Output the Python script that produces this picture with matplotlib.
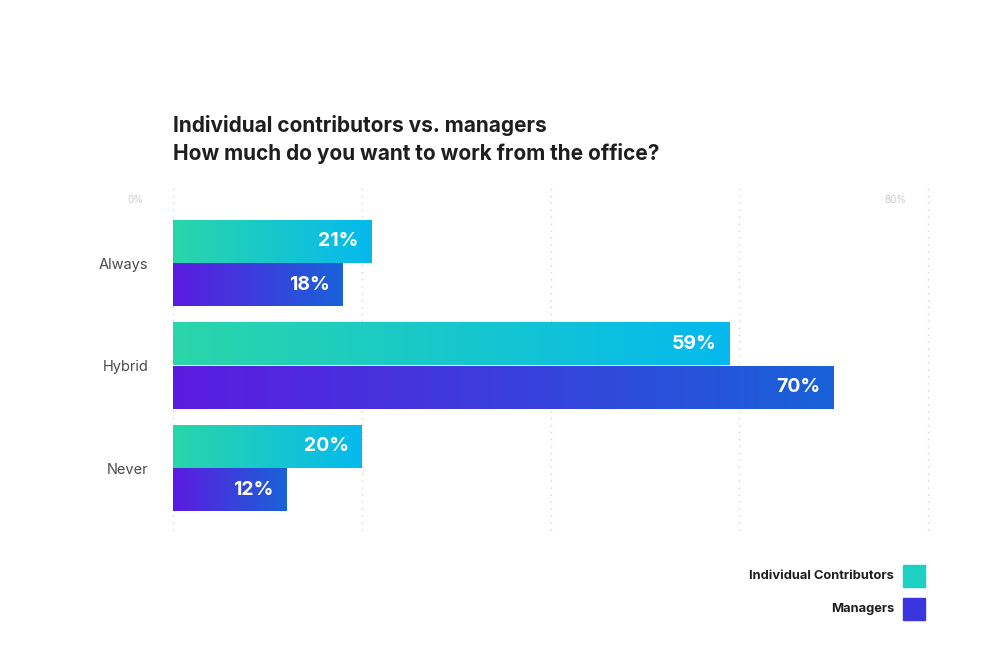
import matplotlib
matplotlib.use("Agg")
import matplotlib.pyplot as plt
import numpy as np
from matplotlib.colors import LinearSegmentedColormap

plt.rcParams['font.family'] = ['Inter', 'DejaVu Sans']

# data
categories = ['Always', 'Hybrid', 'Never']
individual = [21, 59, 20]
managers = [18, 70, 12]
series_names = ['Individual Contributors', 'Managers']
grid_ticks = [0, 20, 40, 60, 80]
tick_labels = {0: '0%', 80: '80%'}

ic_cmap = LinearSegmentedColormap.from_list('ic', ['#2ad6a9', '#05b9ee'])
mg_cmap = LinearSegmentedColormap.from_list('mg', ['#5c1be0', '#1962d8'])
grad = np.linspace(0, 1, 256).reshape(1, -1)

fig = plt.figure(figsize=(10, 6.68), dpi=100)
ax = fig.add_axes([0.173, 1 - 530 / 668, 0.755, (530 - 188) / 668])

y = np.arange(len(categories))
h = 0.42


def gradient_bars(bars, cmap):
    for b in bars:
        x0, y0 = b.get_x(), b.get_y()
        w, hh = b.get_width(), b.get_height()
        im = ax.imshow(grad, cmap=cmap, aspect='auto', interpolation='bicubic',
                       extent=[x0, x0 + w, y0 + hh, y0], zorder=2)
        im.set_clip_path(b)


b1 = ax.barh(y - h / 2, individual, height=h, color='none', edgecolor='none')
b2 = ax.barh(y + h / 2, managers, height=h, color='none', edgecolor='none')
gradient_bars(b1, ic_cmap)
gradient_bars(b2, mg_cmap)

for bars, vals in ((b1, individual), (b2, managers)):
    for b, v in zip(bars, vals):
        ax.annotate(f'{v}%', (b.get_width(), b.get_y() + b.get_height() / 2),
                    xytext=(-13, 0), textcoords='offset pixels',
                    ha='right', va='center', color='white', fontsize=14,
                    fontweight='bold', zorder=4)

for g in grid_ticks:
    ax.axvline(g, color='#d4d4d4', lw=1, ls=(0, (1, 4)), zorder=1, clip_on=False)
for g, lab in tick_labels.items():
    ax.annotate(lab, (g, -0.73), xytext=(-38 if g == 0 else -33, -12),
                textcoords='offset pixels', ha='center', va='center',
                color='#c8c8c8', fontsize=7)

ax.set_xlim(0, 80)
ax.set_ylim(2 + 62 / 102.5, -75 / 102.5)
ax.set_yticks(y)
ax.set_yticklabels(categories, fontsize=10.5, color='#4a4a4a')
ax.tick_params(axis='y', length=0, pad=18)
ax.set_xticks([])
for s in ax.spines.values():
    s.set_visible(False)

fig.text(0.173, 1 - 125 / 668, 'Individual contributors vs. managers',
         fontsize=15, fontweight='bold', color='#1e1e1e', va='center')
fig.text(0.173, 1 - 153 / 668, 'How much do you want to work from the office?',
         fontsize=15, fontweight='bold', color='#1e1e1e', va='center')

# legend
leg_colors = ['#1dd1c2', '#3b35e0']
for i, (name, c) in enumerate(zip(series_names, leg_colors)):
    yc = 1 - (576 + 33 * i) / 668
    fig.patches.append(plt.Rectangle((0.903, yc - 11 / 668), 0.022, 22 / 668,
                                      transform=fig.transFigure, color=c))
    fig.text(0.894, yc, name, ha='right', va='center', fontsize=9.3,
             fontweight='bold', color='#1e1e1e')

fig.savefig('out.png', dpi=100, facecolor='white')
